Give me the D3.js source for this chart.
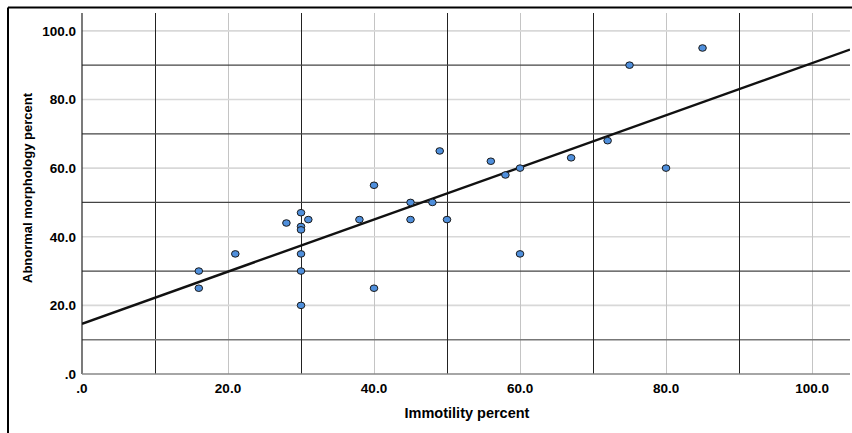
<!DOCTYPE html>
<html>
<head>
<meta charset="utf-8">
<script src="https://cdn.jsdelivr.net/npm/d3@7"></script>
<style>
  body { margin: 0; background: #fff; }
  text { font-family: "Liberation Sans", Arial, sans-serif; }
</style>
</head>
<body>
<script>
// scatter: immotility vs abnormal morphology

var immotility = [16, 16, 21, 28, 30, 30, 30, 30, 30, 30, 31, 38, 40, 40, 45, 45, 48, 49, 50, 56, 58, 60, 60, 67, 72, 75, 80, 85];
var morphology = [30, 25, 35, 44, 47, 43, 42, 35, 30, 20, 45, 45, 55, 25, 50, 45, 50, 65, 45, 62, 58, 60, 35, 63, 68, 90, 60, 95];
var tickValues = [0, 20, 40, 60, 80, 100];
var minorGrid = [10, 30, 50, 70, 90];

var width = 852, height = 433;
var plotLeft = 82, plotRight = 850, plotTop = 13, plotBottom = 374;

var svg = d3.select("body").append("svg")
  .attr("width", width)
  .attr("height", height);

var x = d3.scaleLinear().domain([0, 105.2]).range([plotLeft, plotRight]);
var y = d3.scaleLinear().domain([0, 105.2]).range([plotBottom, plotTop]);

function fmt(v) { return v == 0 ? ".0" : v.toFixed(1); }

// outer frame
svg.append("line").attr("x1", 8).attr("x2", width).attr("y1", 7.5).attr("y2", 7.5)
  .attr("stroke", "#000").attr("stroke-width", 2);
svg.append("line").attr("x1", 8).attr("x2", 8).attr("y1", 7.5).attr("y2", height)
  .attr("stroke", "#000").attr("stroke-width", 2);

var grid = svg.append("g");

// light grid at labelled ticks
tickValues.forEach(function(v) {
  if (v == 0) return;
  grid.append("line").attr("x1", x(v)).attr("x2", x(v)).attr("y1", plotTop).attr("y2", plotBottom)
    .attr("stroke", "#c4c4c4").attr("stroke-width", 1).attr("shape-rendering", "crispEdges");
  grid.append("line").attr("x1", plotLeft).attr("x2", plotRight).attr("y1", y(v)).attr("y2", y(v))
    .attr("stroke", "#d8d8d8").attr("stroke-width", 1.6);
});

// dark grid in between
minorGrid.forEach(function(v) {
  grid.append("line").attr("x1", x(v)).attr("x2", x(v)).attr("y1", plotTop).attr("y2", plotBottom)
    .attr("stroke", "#222").attr("stroke-width", 1).attr("shape-rendering", "crispEdges");
  grid.append("line").attr("x1", plotLeft).attr("x2", plotRight).attr("y1", y(v)).attr("y2", y(v))
    .attr("stroke", v == 10 ? "#777" : "#444").attr("stroke-width", v == 10 ? 1.6 : 1.2);
});

// axes lines
svg.append("line").attr("x1", plotLeft).attr("x2", plotLeft).attr("y1", plotTop).attr("y2", plotBottom)
  .attr("stroke", "#222").attr("stroke-width", 1.2);
svg.append("line").attr("x1", plotLeft).attr("x2", plotRight).attr("y1", plotBottom).attr("y2", plotBottom)
  .attr("stroke", "#888").attr("stroke-width", 1.5);

// tick labels
svg.append("g").selectAll("text").data(tickValues).enter().append("text")
  .attr("x", plotLeft - 6).attr("y", function(d) { return y(d) + 5; })
  .attr("text-anchor", "end").attr("font-size", 13.5).attr("font-weight", "bold")
  .text(fmt);

svg.append("g").selectAll("text").data(tickValues).enter().append("text")
  .attr("x", function(d) { return x(d); }).attr("y", 393)
  .attr("text-anchor", "middle").attr("font-size", 13.5).attr("font-weight", "bold")
  .text(fmt);

// titles
svg.append("text").attr("x", 467).attr("y", 418).attr("text-anchor", "middle")
  .attr("font-size", 14.5).attr("font-weight", "bold").text("Immotility percent");
svg.append("text").attr("transform", "translate(32,188) rotate(-90)").attr("text-anchor", "middle")
  .attr("font-size", 13).attr("font-weight", "bold")
  .style("font-family", "'Liberation Sans Narrow', 'Liberation Sans', Arial, sans-serif")
  .text("Abnormal morphology percent");

// least squares fit line
var mx = d3.mean(immotility), my = d3.mean(morphology);
var sxy = d3.sum(immotility, function(v, i) { return (v - mx) * (morphology[i] - my); });
var sxx = d3.sum(immotility, function(v) { return (v - mx) * (v - mx); });
var slope = sxy / sxx, icpt = my - slope * mx;

svg.append("clipPath").attr("id", "plot").append("rect")
  .attr("x", plotLeft).attr("y", plotTop).attr("width", plotRight - plotLeft).attr("height", plotBottom - plotTop);

svg.append("line").attr("clip-path", "url(#plot)")
  .attr("x1", x(0)).attr("y1", y(icpt))
  .attr("x2", x(105.2)).attr("y2", y(icpt + slope * 105.2))
  .attr("stroke", "#111").attr("stroke-width", 2.4);

// points
svg.append("g").selectAll("ellipse").data(immotility).enter().append("ellipse")
  .attr("cx", function(d) { return x(d); })
  .attr("cy", function(d, i) { return y(morphology[i]); })
  .attr("rx", 3.8).attr("ry", 3.3)
  .attr("fill", "#4f8fdc").attr("stroke", "#1a1a1a").attr("stroke-width", 1);
</script>
</body>
</html>
